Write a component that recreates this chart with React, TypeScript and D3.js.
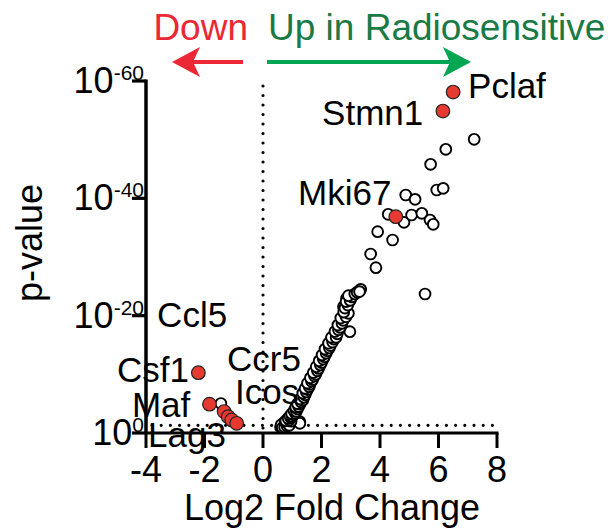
import React from "react";
import * as d3 from "d3";

// ---- data (log2 fold change, -log10 p) ----
const xTicks = [-4, -2, 0, 2, 4, 6, 8];
const yTicks = [0, 20, 40, 60];
const yTickExponents = ["0", "-20", "-40", "-60"];
const pThreshold = 0.05;

const openPoints: [number, number][] = [
  [7.22, 50.06], [6.25, 48.36], [5.73, 45.8], [5.94, 41.42], [6.16, 41.7], [4.88, 40.57], [5.2, 39.83],
  [4.28, 37.28], [4.82, 35.91], [5.08, 37.16], [5.43, 37.45], [5.71, 36.3], [5.82, 35.57], [3.92, 34.31],
  [4.43, 32.9], [3.68, 30.51], [3.86, 28.18], [5.54, 23.69], [3.34, 24.49], [3.09, 23.52], [2.86, 22.96],
  [2.75, 21.53], [2.97, 17.27], [1.26, 1.93], [1.26, 1.65],
  [0.6, 1.0], [0.64, 1.1], [0.68, 1.3], [0.72, 1.2], [0.75, 1.5], [0.7, 1.7], [0.8, 1.6], [0.84, 1.9],
  [0.62, 1.4], [0.66, 0.9], [0.74, 1.0], [0.82, 1.2], [0.76, 1.9], [0.88, 1.7], [0.9, 1.3], [0.96, 2.0],
  [0.78, 2.1], [0.9, 2.2], [0.86, 2.5], [0.95, 2.6], [0.92, 2.9], [1.0, 2.8], [1.04, 3.1], [0.98, 3.3],
  [1.1, 3.4], [1.06, 3.8], [1.14, 3.7], [1.18, 4.1], [1.12, 4.4], [1.22, 4.5], [1.26, 4.9], [1.18, 5.0],
  [1.3, 5.3], [1.36, 5.6], [1.27, 5.8], [1.4, 6.1], [1.44, 6.5], [1.36, 6.8], [1.48, 7.0], [1.52, 7.4],
  [1.44, 7.6], [1.58, 7.9], [1.6, 8.3], [1.52, 8.5], [1.66, 8.8], [1.7, 9.1], [1.62, 9.4], [1.76, 9.7],
  [1.8, 10.0], [1.72, 10.3], [1.86, 10.6], [1.9, 11.0], [1.82, 11.3], [1.96, 11.6], [2.0, 12.0],
  [1.92, 12.3], [2.06, 12.6], [2.1, 13.0], [2.02, 13.3], [2.16, 13.6], [2.2, 14.0], [2.12, 14.3],
  [2.27, 14.5], [2.3, 14.9], [2.24, 15.3], [2.38, 15.5], [2.42, 16.0], [2.34, 16.3], [2.5, 16.3],
  [2.54, 16.9], [2.46, 17.3], [2.58, 17.6], [2.64, 18.0], [2.56, 18.4], [2.7, 18.7], [2.74, 19.2],
  [2.66, 19.6], [2.84, 19.8], [2.92, 20.4], [2.76, 20.6], [2.8, 21.3], [2.9, 21.8], [2.84, 22.4],
  [2.98, 22.6], [3.04, 23.2], [2.92, 23.4], [3.14, 23.7], [3.22, 24.0], [3.3, 24.1],
  [-1.44, 5.03],
];

const highlightX = [6.5, 6.15, 4.54, -2.21, -1.83, -1.33, -1.19, -1.07, -0.9];
const highlightY = [58.12, 54.88, 36.87, 10.28, 4.91, 3.66, 2.78, 2.22, 1.65];

const labelText = ["Pclaf", "Stmn1", "Mki67", "Ccl5", "Csf1", "Ccr5", "Icos", "Maf", "Lag3"];
const labelX = [7.01, 2.02, 1.2, -3.62, -4.99, -1.23, -0.96, -4.48, -3.93];
const labelY = [57.1, 52.5, 38.86, 18.07, 8.69, 10.57, 4.94, 2.73, -2.39];

const FONT = "'Liberation Sans', Arial, Helvetica, sans-serif";

export default function App() {
  const x = d3.scaleLinear().domain([-4, 8]).range([146, 497]);
  const y = d3.scaleLinear().domain([0, 60]).range([433, 81]);
  const thrY = y(-Math.log10(pThreshold));
  const arrowY = 62;

  const arrowHead = (tip: number, dir: number) =>
    `M${tip},${arrowY} L${tip + dir * 28},${arrowY - 15} L${tip + dir * 21},${arrowY} L${tip + dir * 28},${arrowY + 15} Z`;

  return (
    <svg
      width={614}
      height={529}
      style={{ position: "absolute", left: 0, top: 0, background: "#fff" }}
      fontFamily={FONT}
    >
      {/* titles and arrows */}
      <text x={248} y={40} fontSize={37} fill="#ec2736" textAnchor="end">Down</text>
      <text x={268} y={40} fontSize={37} fill="#1a7a46">Up in Radiosensitive</text>
      <line x1={243} x2={186} y1={arrowY} y2={arrowY} stroke="#ec2736" strokeWidth={4} />
      <path d={arrowHead(172, 1)} fill="#ec2736" />
      <line x1={267} x2={455} y1={arrowY} y2={arrowY} stroke="#00a651" strokeWidth={4} />
      <path d={arrowHead(471, -1)} fill="#00a651" />

      {/* dotted reference lines */}
      <line x1={x(0)} x2={x(0)} y1={86} y2={y(0)} stroke="#000" strokeWidth={3.2}
        strokeDasharray="0 9.5" strokeLinecap="round" />
      <line x1={x(-4) + 6} x2={x(8)} y1={thrY} y2={thrY} stroke="#000" strokeWidth={3.2}
        strokeDasharray="0 9.2" strokeLinecap="round" />

      {/* axes */}
      <line x1={x(-4)} x2={x(-4)} y1={y(60) - 1.5} y2={y(0)} stroke="#000" strokeWidth={3.5} />
      <line x1={x(-4) - 1.5} x2={x(8) + 1.5} y1={y(0)} y2={y(0)} stroke="#000" strokeWidth={3.2} />
      {xTicks.map((t) => (
        <g key={"xt" + t}>
          <line x1={x(t)} x2={x(t)} y1={y(0)} y2={y(0) + 15} stroke="#000" strokeWidth={3} />
          <text x={x(t)} y={482} fontSize={36} textAnchor="middle">{String(t)}</text>
        </g>
      ))}
      {yTicks.map((t, i) => (
        <g key={"yt" + t}>
          <line x1={132} x2={x(-4)} y1={y(t)} y2={y(t)} stroke="#000" strokeWidth={3.2} />
          <text x={144} y={y(t) + 12} fontSize={36} textAnchor="end">
            10<tspan dy={-13} fontSize={21}>{yTickExponents[i]}</tspan>
          </text>
        </g>
      ))}
      <text x={332} y={520} fontSize={36} textAnchor="middle">Log2 Fold Change</text>
      <text transform={`translate(42,243) rotate(-90)`} fontSize={36} textAnchor="middle">p-value</text>

      {/* points */}
      {openPoints.map((p, i) => (
        <circle key={"o" + i} cx={x(p[0])} cy={y(p[1])} r={5.4} fill="#fff" stroke="#000" strokeWidth={1.9} />
      ))}
      {highlightX.map((v, i) => (
        <circle key={"h" + i} cx={x(v)} cy={y(highlightY[i])} r={6.8} fill="#e63a30" stroke="#222" strokeWidth={1.2} />
      ))}

      {/* labels */}
      {labelText.map((t, i) => (
        <text key={"l" + t} x={x(labelX[i])} y={y(labelY[i])} fontSize={35} fill="#000">{t}</text>
      ))}
    </svg>
  );
}
